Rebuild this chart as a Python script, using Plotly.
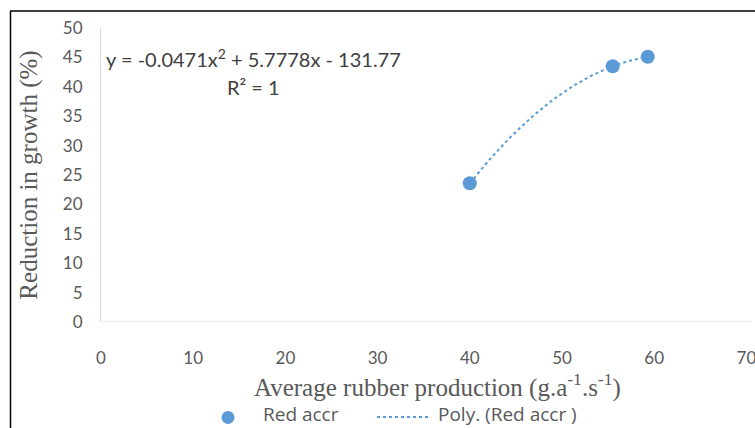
import numpy as np
import plotly.graph_objects as go

# Data
x_vals = [40.0, 55.5, 59.3]
y_vals = [23.6, 43.5, 45.1]
series_name = "Red accr"
trend_name = "Poly. (Red accr )"
x_ticks = [0, 10, 20, 30, 40, 50, 60, 70]
y_ticks = [0, 5, 10, 15, 20, 25, 30, 35, 40, 45, 50]
x_title = "Average rubber production (g.a<sup>-1</sup>.s<sup>-1</sup>)"
y_title = "Reduction in growth (%)"
equation_text = "y = -0.0471x<sup>2</sup> + 5.7778x - 131.77"
r2_text = "R² = 1"

# polynomial trendline (order 2) fit through the series
coef = np.polyfit(x_vals, y_vals, 2)
xt = np.linspace(min(x_vals), max(x_vals), 100)
yt = np.polyval(coef, xt)

blue = "#5B9BD5"
gray = "#595959"

fig = go.Figure()
fig.add_trace(go.Scatter(x=x_vals, y=y_vals, mode="markers", name=series_name,
                         marker=dict(color=blue, size=14)))
fig.add_trace(go.Scatter(x=xt, y=yt, mode="lines", name=trend_name,
                         line=dict(color=blue, width=2, dash="dot")))

W, H = 755, 428
L, R, T, B = 101, 4, 28, 106
pw = W - L - R
ph = H - T - B

def px(xp):
    return (xp - L) / pw

def py(yp):
    return (H - B - yp) / ph

legend_font = dict(family="Open Sans", size=19, color=gray)

fig.update_layout(
    width=W, height=H,
    margin=dict(l=L, r=R, t=T, b=B),
    paper_bgcolor="white", plot_bgcolor="white",
    showlegend=False,
    xaxis=dict(range=[0, 70.5], tickvals=x_ticks, showgrid=False, zeroline=False,
               showline=False, ticks="", ticklabeloverflow="allow", ticklabelstandoff=24,
               automargin=False,
               tickfont=dict(family="Lato", size=17, color=gray)),
    yaxis=dict(range=[0, 50], tickvals=y_ticks, showgrid=False, zeroline=False,
               showline=True, linecolor="#D9D9D9", linewidth=1, ticks="",
               ticklabelstandoff=14, automargin=False,
               tickfont=dict(family="Lato", size=17, color=gray),
               title=dict(text=y_title,
                          font=dict(family="Liberation Serif", size=25, color=gray),
                          standoff=18)),
    shapes=[
        # x axis line
        dict(type="line", xref="paper", yref="y", x0=0, x1=px(752), y0=0, y1=0,
             line=dict(color="#D9D9D9", width=1)),
        # outer border left
        dict(type="line", xref="paper", yref="paper", x0=px(10.5), x1=px(10.5),
             y0=py(11), y1=py(428), line=dict(color="black", width=1.5)),
        # outer border top
        dict(type="line", xref="paper", yref="paper", x0=px(10), x1=px(755),
             y0=py(11), y1=py(11), line=dict(color="black", width=1.5)),
        # legend symbols
        dict(type="circle", xref="paper", yref="paper", x0=px(221.5), x1=px(234.5),
             y0=py(424), y1=py(411), fillcolor=blue, line=dict(width=0)),
        dict(type="line", xref="paper", yref="paper", x0=px(377), x1=px(430),
             y0=py(417), y1=py(417), line=dict(color=blue, width=2, dash="dot")),
    ],
    annotations=[
        dict(text=equation_text, xref="paper", yref="paper", x=px(104), y=py(58),
             xanchor="left", yanchor="middle", showarrow=False,
             font=dict(family="Lato", size=20, color="#404040")),
        dict(text=r2_text, xref="paper", yref="paper", x=px(253), y=py(87),
             xanchor="center", yanchor="middle", showarrow=False,
             font=dict(family="Lato", size=20, color="#404040")),
        dict(text=x_title, xref="paper", yref="paper", x=px(437), y=py(385),
             xanchor="center", yanchor="middle", showarrow=False,
             font=dict(family="Liberation Serif", size=25, color=gray)),
        dict(text=series_name, xref="paper", yref="paper", x=px(261), y=py(414),
             xanchor="left", yanchor="middle", showarrow=False, font=legend_font),
        dict(text=trend_name, xref="paper", yref="paper", x=px(436), y=py(414),
             xanchor="left", yanchor="middle", showarrow=False, font=legend_font),
    ],
)

fig.write_html("out.html")
